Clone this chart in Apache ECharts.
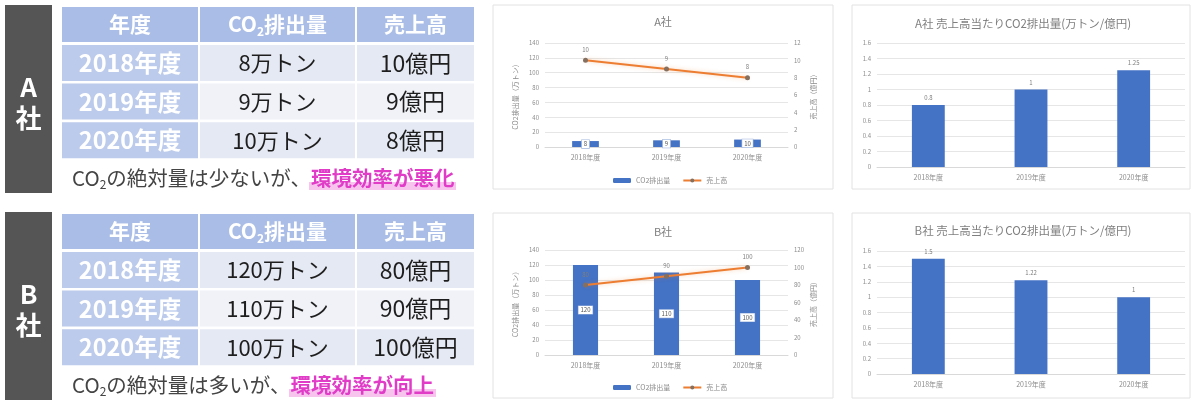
<!DOCTYPE html>
<html><head><meta charset="utf-8">
<script src="https://cdn.jsdelivr.net/npm/echarts@6/dist/echarts.min.js"></script>
<style>html,body{margin:0;padding:0;background:#fff;}#c{width:1192px;height:400px;}</style>
</head><body><div id="c"></div>
<script>
// ---- data ----
const years = ['2018年度', '2019年度', '2020年度'];
const co2A = [8, 9, 10];
const salesA = [10, 9, 8];
const ratioA = [0.8, 1, 1.25];
const co2B = [120, 110, 100];
const salesB = [80, 90, 100];
const ratioB = [1.5, 1.22, 1];
const seriesNames = ['CO2排出量', '売上高'];
const comboTitles = ['A社', 'B社'];
const ratioTitles = ['A社 売上高当たりCO2排出量(万トン/億円)', 'B社 売上高当たりCO2排出量(万トン/億円)'];
const captionsA = ['の絶対量は少ないが、', '環境効率が悪化'];
const captionsB = ['の絶対量は多いが、', '環境効率が向上'];

const JP = '"Noto Sans CJK JP", "Noto Sans", sans-serif';
const blue = '#4472C4';
const orange = '#ED7D31';

function txt(x, y, text, o) {
  return Object.assign({type: 'text', x: x, y: y, z: 5, style: Object.assign({
    text: text, fontFamily: JP, align: 'center', verticalAlign: 'middle',
    textAlign: 'center', textVerticalAlign: 'middle'
  }, o)});
}

function tableGraphics(oy, label, co2, sales, cap, hl) {
  const g = [];
  g.push({type: 'rect', z: 1, shape: {x: 5, y: oy + 5, width: 47, height: 188}, style: {fill: '#555555'}});
  g.push(txt(28.5, oy + 103, label + '\n社', {fontSize: 26, fontWeight: 'bold', lineHeight: 31, fill: '#ffffff'}));
  const cols = [[62, 136], [200, 155], [357, 117]];
  cols.forEach(function (c) {
    g.push({type: 'rect', z: 1, shape: {x: c[0], y: oy + 7, width: c[1], height: 35}, style: {fill: '#a9bde6'}});
  });
  const hy = oy + 24.5;
  g.push(txt(130, hy, '年度', {fontSize: 21, fontWeight: 'bold', fill: '#ffffff'}));
  g.push(txt(277.5, hy, '{a|CO}{s|2}{a|排出量}', {fill: '#ffffff', rich: {
    a: {fontSize: 21, fontWeight: 'bold', fill: '#ffffff', fontFamily: JP, lineHeight: 26},
    s: {fontSize: 12, fontWeight: 'bold', fill: '#ffffff', fontFamily: JP, lineHeight: 12, verticalAlign: 'bottom'}
  }}));
  g.push(txt(415.5, hy, '売上高', {fontSize: 21, fontWeight: 'bold', fill: '#ffffff'}));
  for (let i = 0; i < years.length; i++) {
    const ry = oy + 45 + i * 38.6;
    const bg = (i % 2 === 0) ? '#e5e9f3' : '#f0f2f8';
    g.push({type: 'rect', z: 1, shape: {x: cols[0][0], y: ry, width: cols[0][1], height: 36}, style: {fill: '#bccbeb'}});
    g.push({type: 'rect', z: 1, shape: {x: cols[1][0], y: ry, width: cols[1][1], height: 36}, style: {fill: bg}});
    g.push({type: 'rect', z: 1, shape: {x: cols[2][0], y: ry, width: cols[2][1], height: 36}, style: {fill: bg}});
    g.push(txt(130, ry + 18, years[i], {fontSize: 23.5, fontWeight: 'bold', fill: '#ffffff'}));
    g.push(txt(277.5, ry + 18, co2[i] + '万トン', {fontSize: 22, fill: '#1e1e1e'}));
    g.push(txt(415.5, ry + 18, sales[i] + '億円', {fontSize: 23, fill: '#1e1e1e'}));
  }
  g.push({type: 'rect', z: 1, shape: {x: hl, y: oy + 182, width: 147, height: 8}, style: {fill: '#f7c4ee'}});
  g.push({type: 'text', x: 72, y: oy + 178, z: 5, style: {
    text: '{a|CO}{s|2}{a|' + cap[0] + '}{h|' + cap[1] + '}',
    align: 'left', verticalAlign: 'middle', textAlign: 'left', textVerticalAlign: 'middle',
    fontFamily: JP,
    rich: {
      a: {fontSize: 20.5, fill: '#444444', fontFamily: JP, lineHeight: 24},
      s: {fontSize: 12, fill: '#444444', fontFamily: JP, lineHeight: 12, verticalAlign: 'bottom'},
      h: {fontSize: 20.5, fill: '#e03cc8', fontWeight: 'bold', fontFamily: JP, lineHeight: 24}
    }
  }});
  return g;
}

const panels = [
  [493, 5, 340, 184], [852, 5, 338, 184], [493, 213, 340, 185], [852, 213, 338, 185]
].map(function (p) {
  return {type: 'rect', z: -10, shape: {x: p[0], y: p[1], width: p[2], height: p[3]},
    style: {fill: '#ffffff', stroke: '#e2e2e2', lineWidth: 1}};
});

const titles = [
  txt(663, 22, comboTitles[0], {fontSize: 11, fill: '#7f7f7f'}),
  txt(663, 232, comboTitles[1], {fontSize: 11, fill: '#7f7f7f'}),
  txt(1023, 24, ratioTitles[0], {fontSize: 11.5, fill: '#7f7f7f'}),
  txt(1023, 231, ratioTitles[1], {fontSize: 11.5, fill: '#7f7f7f'})
];

const graphics = panels
  .concat(tableGraphics(0, 'A', co2A, salesA, captionsA, 309))
  .concat(tableGraphics(207, 'B', co2B, salesB, captionsB, 289))
  .concat(titles);

const axisLabel = {fontSize: 6, color: '#8c8c8c', fontFamily: JP};
function catAxis(gi) {
  return {type: 'category', gridIndex: gi, data: years, axisTick: {show: false},
    axisLine: {lineStyle: {color: '#d9d9d9'}},
    axisLabel: {fontSize: 7, color: '#8c8c8c', fontFamily: JP, margin: 7}};
}
function valAxis(gi, max, interval, extra) {
  return Object.assign({type: 'value', gridIndex: gi, min: 0, max: max, interval: interval,
    axisLine: {show: false}, axisTick: {show: false},
    axisLabel: Object.assign({margin: 6}, axisLabel),
    splitLine: {show: true, lineStyle: {color: '#e6e6e6', width: 1}},
    nameTextStyle: {fontSize: 7, color: '#8c8c8c', fontFamily: JP}}, extra || {});
}
const leftName = {name: 'CO2排出量（万トン）', nameLocation: 'middle', nameGap: 26, nameRotate: 90};
const rightName = {name: '売上高（億円）', nameLocation: 'middle', nameGap: 22, nameRotate: 90,
  position: 'right', splitLine: {show: false}};

const boxLabel = {show: true, position: 'inside', fontSize: 6, color: '#595959', fontFamily: JP,
  backgroundColor: '#ffffff', borderColor: '#9fb5de', borderWidth: 0.6, padding: [1, 2]};
const lineLabel = {show: true, position: 'top', distance: 5, fontSize: 6, color: '#7f7f7f', fontFamily: JP};
const topLabel = {show: true, position: 'top', distance: 4, fontSize: 6, color: '#7f7f7f', fontFamily: JP};

function lineSeries(data, xi, yi) {
  return {type: 'line', name: seriesNames[1], xAxisIndex: xi, yAxisIndex: yi, data: data,
    symbol: 'circle', symbolSize: 5,
    lineStyle: {color: orange, width: 2, shadowColor: 'rgba(237,125,49,0.35)', shadowBlur: 4},
    itemStyle: {color: '#85705f'}, label: lineLabel, z: 4};
}
function barSeries(name, data, xi, yi, w, label) {
  return {type: 'bar', name: name, xAxisIndex: xi, yAxisIndex: yi, data: data,
    barWidth: w, itemStyle: {color: blue}, label: label};
}

const legendBase = {data: seriesNames, itemWidth: 18, itemHeight: 5, itemGap: 12,
  textStyle: {fontSize: 7, color: '#8c8c8c', fontFamily: JP}, selectedMode: false};

const option = {
  animation: false,
  backgroundColor: '#ffffff',
  graphic: graphics,
  legend: [
    Object.assign({left: 608, top: 172}, legendBase),
    Object.assign({left: 608, top: 379}, legendBase)
  ],
  grid: [
    {left: 545, top: 43, width: 243, height: 104},
    {left: 545, top: 250, width: 243, height: 105},
    {left: 877, top: 43, width: 308, height: 124},
    {left: 877, top: 251, width: 308, height: 123}
  ],
  xAxis: [catAxis(0), catAxis(1), catAxis(2), catAxis(3)],
  yAxis: [
    valAxis(0, 140, 20, leftName),
    valAxis(0, 12, 2, rightName),
    valAxis(1, 140, 20, leftName),
    valAxis(1, 120, 20, rightName),
    valAxis(2, 1.6, 0.2),
    valAxis(3, 1.6, 0.2)
  ],
  series: [
    barSeries(seriesNames[0], co2A, 0, 0, '33%', boxLabel),
    lineSeries(salesA, 0, 1),
    barSeries(seriesNames[0], co2B, 1, 2, '31%', boxLabel),
    lineSeries(salesB, 1, 3),
    barSeries('A社比率', ratioA, 2, 4, '32%', topLabel),
    barSeries('B社比率', ratioB, 3, 5, '32%', topLabel)
  ]
};
const chart = echarts.init(document.getElementById('c'));
chart.setOption(option);
</script>
</body></html>
